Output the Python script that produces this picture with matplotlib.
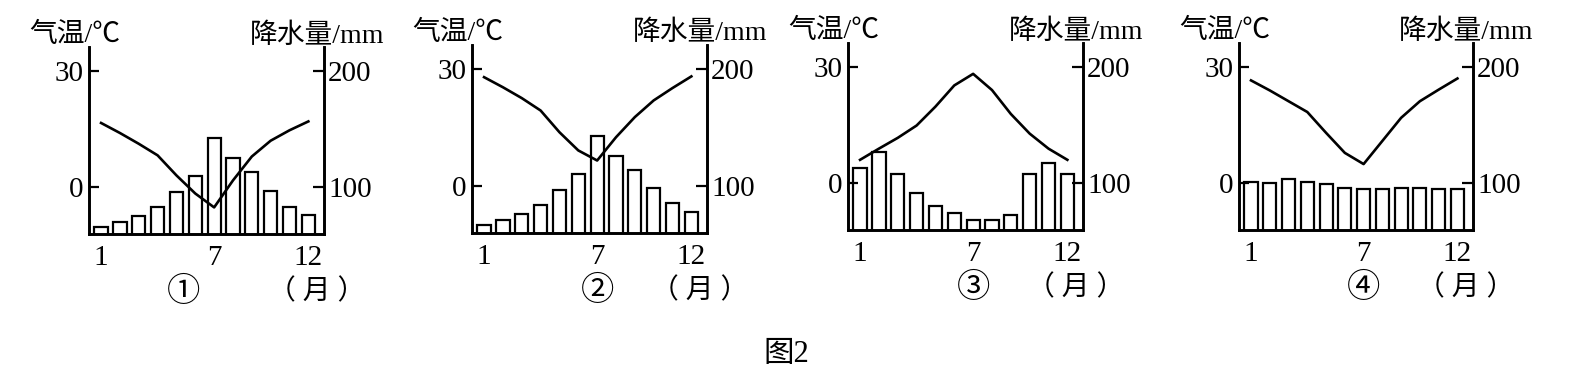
import matplotlib.pyplot as plt

plt.rcParams['font.family'] = ['Liberation Serif', 'Noto Sans CJK SC', 'DejaVu Sans']

months = list(range(1, 13))
month_ticks = [1, 7, 12]
panel_names = ['①', '②', '③', '④']

# temperature (°C)
temp_1 = [16.6, 14.0, 11.2, 8.2, 3.0, -1.7, -5.3, 1.7, 7.9, 12.0, 14.7, 17.0]
temp_2 = [28.0, 25.4, 22.6, 19.4, 13.8, 9.1, 6.5, 12.5, 17.7, 22.0, 25.2, 28.2]
temp_3 = [6.0, 8.9, 11.7, 14.9, 19.8, 25.3, 28.3, 24.1, 17.9, 12.8, 8.9, 6.0]
temp_4 = [26.6, 24.0, 21.2, 18.4, 13.0, 7.8, 4.9, 10.9, 16.9, 21.2, 24.2, 27.1]

# precipitation (mm)
rain_1 = [65.5, 69.8, 75.0, 82.8, 95.4, 109.5, 142.5, 125.3, 112.6, 96.6, 83.0, 75.6]
rain_2 = [66.0, 70.4, 76.0, 83.6, 96.3, 110.3, 143.0, 125.9, 113.8, 97.7, 85.0, 77.0]
rain_3 = [113.2, 126.7, 108.0, 91.7, 80.2, 73.6, 67.8, 67.8, 72.1, 107.5, 117.2, 107.5]
rain_4 = [100.9, 99.7, 103.7, 100.9, 98.9, 95.4, 94.5, 94.5, 96.0, 95.4, 94.5, 95.0]

temps = [temp_1, temp_2, temp_3, temp_4]
rains = [rain_1, rain_2, rain_3, rain_4]

W, H = 1574, 374
# pixel boxes of each panel: left, right, top, bottom
boxes = [(89, 324, 47, 234), (472, 707, 45, 233), (848, 1083, 43, 230), (1239, 1473, 43, 230)]
name_x = [5.4, 7, 7, 7]
t_lo, t_hi = -12.2, 36.3

fig = plt.figure(figsize=(W / 100, H / 100), dpi=100)

for i in range(4):
    x0, x1, yt, yb = boxes[i]
    ax = fig.add_axes([x0 / W, 1 - yb / H, (x1 - x0) / W, (yb - yt) / H])
    ax2 = ax.twinx()
    ax.set_zorder(ax2.get_zorder() + 1)
    ax.patch.set_visible(False)

    # bars on the right axis
    ax2.bar(months, rains[i], width=0.7, facecolor='white', edgecolor='black', linewidth=1.6)
    ax2.set_ylim(100 + t_lo * 10 / 3, 100 + t_hi * 10 / 3)
    ax2.set_yticks([100, 200])

    # temperature curve on the left axis
    ax.plot(months, temps[i], color='black', linewidth=1.9)
    ax.set_ylim(t_lo, t_hi)
    ax.set_yticks([0, 30])
    ax.set_xlim(0.36, 12.83)
    ax.set_xticks(month_ticks)

    for a in (ax, ax2):
        a.spines['top'].set_visible(False)
        for s in ('left', 'right', 'bottom'):
            a.spines[s].set_linewidth(1.9)
    ax.tick_params(axis='y', direction='in', length=7, width=1.6, pad=4, labelsize=21)
    ax2.tick_params(axis='y', direction='in', length=8, width=1.6, pad=3, labelsize=21)
    ax.tick_params(axis='x', length=0, pad=8, labelsize=21)

    ax.text(-0.06, 1.06, '气温/℃', transform=ax.transAxes, ha='center', va='center', fontsize=20)
    ax.text(0.97, 1.06, '降水量/mm', transform=ax.transAxes, ha='center', va='center', fontsize=20)
    ax.text(name_x[i], -0.31, panel_names[i], transform=ax.get_xaxis_transform(),
            ha='center', va='center', fontsize=24)
    ax.text(0.97, -0.31, '（ 月 ）', transform=ax.transAxes, ha='center', va='center', fontsize=20)

fig.text(786 / W, 1 - 355 / H, '图2', ha='center', va='center', fontsize=22)

plt.savefig('out.png', dpi=100)
